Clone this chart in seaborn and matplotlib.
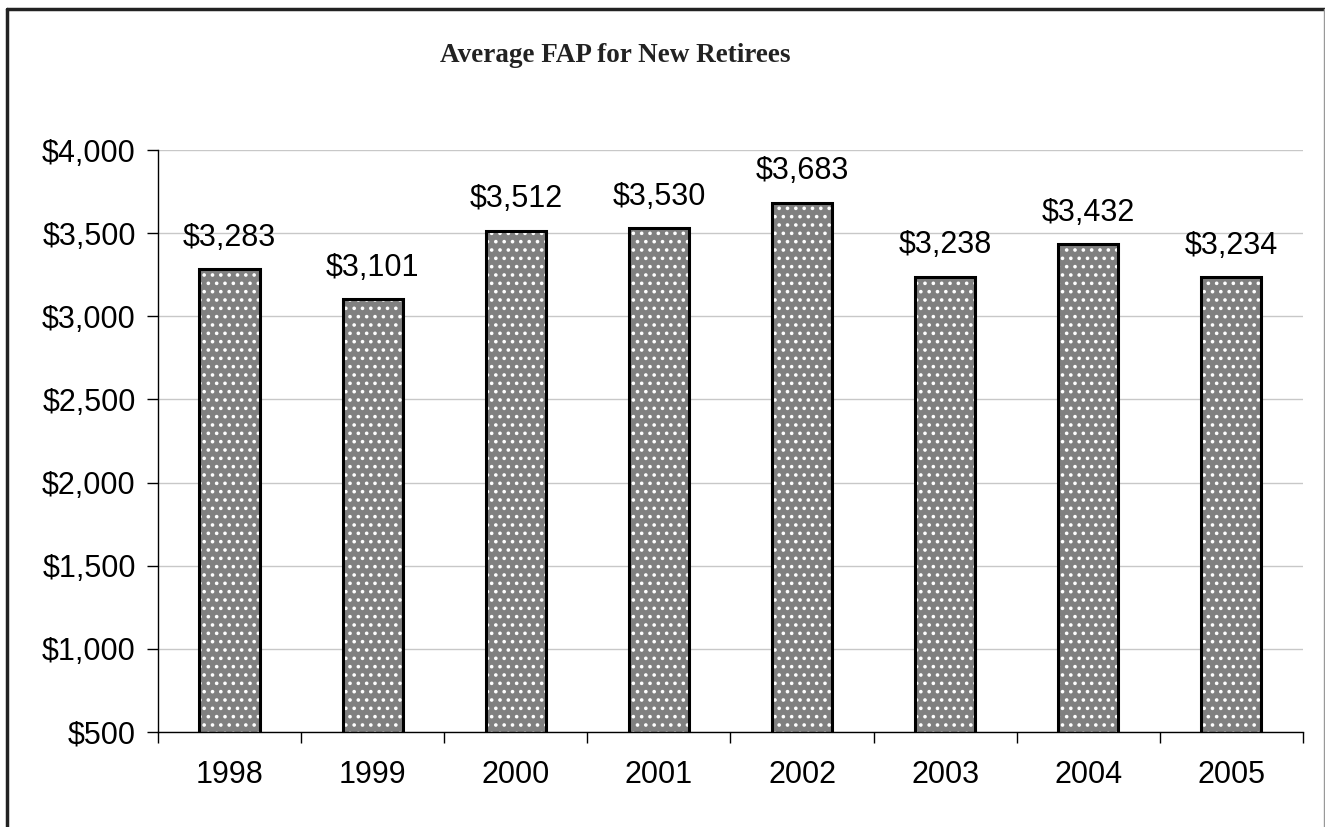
import matplotlib
matplotlib.use("Agg")
import matplotlib.pyplot as plt
import seaborn as sns
import pandas as pd
from matplotlib.patches import Rectangle
from matplotlib.lines import Line2D

years = ["1998", "1999", "2000", "2001", "2002", "2003", "2004", "2005"]
fap = [3283, 3101, 3512, 3530, 3683, 3238, 3432, 3234]
y_ticks = [500, 1000, 1500, 2000, 2500, 3000, 3500, 4000]

df = pd.DataFrame({"Year": years, "FAP": fap})

sns.set_style("white")
plt.rcParams["font.family"] = ["Liberation Sans", "DejaVu Sans"]
plt.rcParams["text.color"] = "black"
plt.rcParams["xtick.color"] = "black"
plt.rcParams["ytick.color"] = "black"
plt.rcParams["hatch.linewidth"] = 1.4

fig = plt.figure(figsize=(13.25, 8.27), dpi=100)
ax = fig.add_axes([0.1192, 0.1149, 0.9834 - 0.1192, 0.8186 - 0.1149])

# bars: gray fill with white dot pattern
sns.barplot(data=df, x="Year", y="FAP", color="#808080", saturation=1,
            width=0.42, edgecolor="white", linewidth=0, ax=ax)
for p in ax.patches:
    p.set_hatch("..")
    ax.add_patch(Rectangle(p.get_xy(), p.get_width(), p.get_height(),
                           fill=False, edgecolor="black", linewidth=2.2, zorder=3))

fs = 22
ax.set_ylim(500, 4000)
ax.set_xlim(-0.5, len(years) - 0.5)
ax.set_yticks(y_ticks)
ax.set_yticklabels([f"${v:,}" for v in y_ticks], fontsize=fs)
ax.set_xticks(range(len(years)))
ax.set_xticklabels(years, fontsize=fs)
ax.tick_params(axis="x", length=0, pad=20)
ax.tick_params(axis="y", length=8, width=1, color="black", direction="out", pad=8, left=True)
# category boundary ticks on x axis
ax.set_xticks([i - 0.5 for i in range(len(years) + 1)], minor=True)
ax.tick_params(axis="x", which="minor", length=8, width=1, color="black", direction="out", bottom=True)

ax.yaxis.grid(True, color="#c8c8c8", linewidth=1)
ax.set_axisbelow(True)
for s in ["top", "right"]:
    ax.spines[s].set_visible(False)
for s in ["left", "bottom"]:
    ax.spines[s].set_color("black")
    ax.spines[s].set_linewidth(1)
ax.set_xlabel("")
ax.set_ylabel("")

for i, v in enumerate(fap):
    ax.annotate(f"${v:,}", (i, v), xytext=(0, 12), textcoords="offset points",
                ha="center", va="bottom", fontsize=fs)

fig.text(615 / 1325, 1 - 55 / 827, "Average FAP for New Retirees", ha="center", va="center",
         fontsize=19.5, fontweight="bold", family=["Liberation Serif", "DejaVu Serif"],
         color="#222222")

# outer frame
fig.add_artist(Line2D([7 / 1325, 1325 / 1325], [1 - 9 / 827] * 2, color="#222222", linewidth=2.5))
fig.add_artist(Line2D([7 / 1325] * 2, [0, 1 - 9 / 827], color="#222222", linewidth=2.5))
fig.add_artist(Line2D([1324 / 1325] * 2, [0, 1 - 9 / 827], color="#999999", linewidth=1))

fig.savefig("out.png", dpi=100)
